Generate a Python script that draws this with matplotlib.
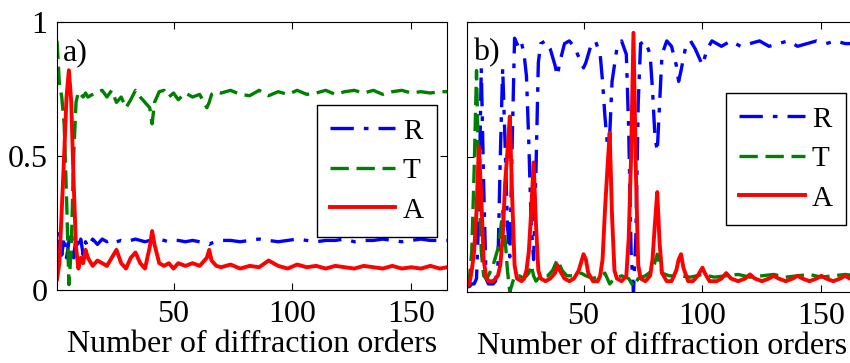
import matplotlib
matplotlib.use("Agg")
import matplotlib.pyplot as plt

plt.rcParams["font.family"] = ["Liberation Serif", "DejaVu Serif"]

# ---- panel a) ----
n_a = [1, 2, 3, 4, 5, 6, 7, 8, 9, 10, 11, 12, 13, 14, 16, 18, 20, 22, 24, 26, 28,
       30, 32, 34, 36, 38, 40, 41, 42, 44, 46, 48, 50, 52, 55, 58, 61, 64, 65, 66,
       68, 70, 74, 78, 82, 86, 90, 94, 98, 102, 106, 110, 114, 118, 122, 126, 130,
       134, 138, 142, 146, 150, 154, 158, 162, 165]
r_a = [0.10, 0.22, 0.13, 0.20, 0.12, 0.18, 0.22, 0.12, 0.20, 0.15, 0.19, 0.13, 0.18,
       0.16, 0.19, 0.17, 0.19, 0.18, 0.19, 0.18, 0.185, 0.18, 0.185, 0.19, 0.185,
       0.18, 0.185, 0.18, 0.185, 0.19, 0.185, 0.18, 0.185, 0.185, 0.18, 0.185, 0.18,
       0.175, 0.17, 0.175, 0.18, 0.185, 0.185, 0.18, 0.185, 0.19, 0.185, 0.18, 0.185,
       0.19, 0.185, 0.18, 0.185, 0.185, 0.19, 0.18, 0.185, 0.185, 0.19, 0.185, 0.18,
       0.185, 0.19, 0.185, 0.185, 0.185]
t_a = [0.93, 0.77, 0.72, 0.62, 0.35, 0.02, 0.15, 0.50, 0.70, 0.74, 0.73, 0.72, 0.735,
       0.72, 0.73, 0.74, 0.745, 0.72, 0.745, 0.70, 0.72, 0.68, 0.71, 0.745, 0.72, 0.70,
       0.68, 0.62, 0.70, 0.74, 0.745, 0.72, 0.735, 0.71, 0.735, 0.72, 0.73, 0.68, 0.70,
       0.73, 0.74, 0.735, 0.745, 0.73, 0.725, 0.745, 0.725, 0.74, 0.73, 0.745, 0.73,
       0.735, 0.745, 0.73, 0.74, 0.745, 0.735, 0.745, 0.73, 0.74, 0.745, 0.735, 0.74,
       0.735, 0.74, 0.74]
a_a = [0.04, 0.10, 0.30, 0.50, 0.72, 0.82, 0.70, 0.40, 0.16, 0.08, 0.12, 0.10, 0.15,
       0.12, 0.09, 0.11, 0.10, 0.09, 0.12, 0.15, 0.10, 0.08, 0.12, 0.14, 0.10, 0.08,
       0.16, 0.22, 0.17, 0.10, 0.09, 0.10, 0.08, 0.10, 0.09, 0.10, 0.09, 0.12, 0.15,
       0.11, 0.09, 0.085, 0.095, 0.08, 0.09, 0.085, 0.11, 0.09, 0.08, 0.095, 0.085,
       0.09, 0.08, 0.09, 0.085, 0.08, 0.09, 0.085, 0.08, 0.09, 0.08, 0.085, 0.08,
       0.09, 0.08, 0.085]

# ---- panel b) ----
n_b_r = [1, 2, 3, 4, 5, 6, 7, 8, 9, 10, 11, 12, 13, 14, 15, 16, 17, 18, 19, 20, 21,
         22, 23, 24, 25, 26, 27, 28, 29, 30, 31, 32, 34, 36, 38, 39, 40, 42, 44, 46,
         48, 50, 51, 53, 55, 57, 58, 59, 60, 61, 62, 64, 66, 68, 69, 70, 71, 72, 73,
         74, 76, 78, 79, 80, 81, 82, 83, 85, 87, 89, 90, 91, 93, 95, 97, 99, 100, 102,
         104, 108, 112, 116, 120, 124, 128, 132, 136, 140, 144, 148, 152, 156, 160, 165]
r_b = [0.02, 0.02, 0.03, 0.03, 0.05, 0.30, 0.83, 0.40, 0.05, 0.03, 0.03, 0.03, 0.04,
       0.10, 0.50, 0.83, 0.55, 0.25, 0.13, 0.55, 0.94, 0.92, 0.90, 0.92, 0.88, 0.80,
       0.55, 0.25, 0.12, 0.45, 0.85, 0.92, 0.93, 0.90, 0.84, 0.80, 0.85, 0.92, 0.93,
       0.91, 0.87, 0.83, 0.85, 0.91, 0.93, 0.88, 0.78, 0.65, 0.55, 0.58, 0.78, 0.90,
       0.93, 0.88, 0.60, 0.15, 0.00, 0.20, 0.70, 0.92, 0.93, 0.88, 0.75, 0.58, 0.52,
       0.70, 0.88, 0.93, 0.91, 0.84, 0.78, 0.82, 0.91, 0.93, 0.90, 0.86, 0.84, 0.90,
       0.93, 0.91, 0.93, 0.91, 0.92, 0.93, 0.91, 0.92, 0.93, 0.91, 0.92, 0.93, 0.92,
       0.93, 0.92, 0.92]
n_b_t = [1, 2, 3, 4, 5, 6, 7, 8, 9, 10, 11, 12, 13, 14, 15, 16, 17, 18, 19, 20, 21,
         23, 25, 27, 28, 29, 30, 32, 35, 37, 39, 41, 43, 46, 49, 51, 54, 57, 59, 61, 63,
         66, 69, 71, 73, 76, 79, 81, 83, 86, 90, 95, 100, 105, 110, 115, 120, 125, 130,
         135, 140, 145, 150, 155, 160, 165]
t_b = [0.02, 0.05, 0.15, 0.45, 0.82, 0.40, 0.15, 0.06, 0.05, 0.06, 0.08, 0.10, 0.13,
       0.16, 0.22, 0.30, 0.20, 0.08, 0.00, 0.03, 0.06, 0.06, 0.05, 0.07, 0.10, 0.06,
       0.04, 0.06, 0.06, 0.08, 0.12, 0.08, 0.06, 0.06, 0.07, 0.06, 0.05, 0.06, 0.07,
       0.03, 0.05, 0.06, 0.05, 0.02, 0.05, 0.06, 0.08, 0.14, 0.07, 0.06, 0.06, 0.055,
       0.065, 0.055, 0.06, 0.065, 0.055, 0.06, 0.065, 0.055, 0.06, 0.065, 0.055, 0.06,
       0.065, 0.06]
n_b_a = [1, 2, 3, 4, 5, 6, 7, 8, 9, 10, 12, 13, 14, 15, 16, 17, 18, 19, 20, 21, 22,
         24, 25, 26, 27, 28, 29, 30, 31, 32, 34, 36, 38, 39, 40, 42, 44, 46, 48, 50, 51,
         52, 54, 56, 57, 58, 59, 60, 61, 62, 63, 64, 66, 68, 69, 70, 71, 72, 73, 74, 76,
         78, 79, 80, 81, 82, 83, 85, 87, 89, 90, 91, 92, 94, 96, 98, 100, 101, 103, 106,
         108, 110, 112, 115, 118, 120, 122, 125, 128, 130, 132, 135, 138, 140, 142, 145,
         148, 150, 152, 155, 158, 160, 162, 165]
a_b = [0.02, 0.03, 0.08, 0.15, 0.30, 0.54, 0.35, 0.12, 0.06, 0.04, 0.04, 0.05, 0.06,
       0.10, 0.20, 0.40, 0.52, 0.65, 0.35, 0.10, 0.05, 0.04, 0.05, 0.08, 0.15, 0.30,
       0.48, 0.25, 0.08, 0.05, 0.04, 0.05, 0.07, 0.10, 0.08, 0.05, 0.04, 0.05, 0.08,
       0.14, 0.12, 0.07, 0.04, 0.04, 0.06, 0.12, 0.30, 0.45, 0.59, 0.28, 0.08, 0.05,
       0.04, 0.06, 0.20, 0.50, 0.96, 0.45, 0.10, 0.05, 0.04, 0.06, 0.12, 0.25, 0.37,
       0.18, 0.07, 0.04, 0.04, 0.08, 0.12, 0.14, 0.09, 0.04, 0.04, 0.06, 0.09, 0.07,
       0.04, 0.04, 0.05, 0.07, 0.05, 0.04, 0.05, 0.065, 0.05, 0.04, 0.05, 0.06, 0.05,
       0.04, 0.05, 0.06, 0.05, 0.04, 0.05, 0.06, 0.05, 0.04, 0.05, 0.06, 0.05, 0.04]

FS = 23
LW = 2.4
DASHDOT = [7, 3, 1.4, 3]
DASHED = [5.5, 2.3]

fig = plt.figure(figsize=(8.5, 3.63), dpi=100)
ax_a = fig.add_axes([57 / 850, 73 / 363, 390 / 850, 268 / 363])
ax_b = fig.add_axes([467 / 850, 71 / 363, 390 / 850, 270 / 363])

panels = [
    (ax_a, "a)", (n_a, r_a), (n_a, t_a), (n_a, a_a), (0.974, 0.69)),
    (ax_b, "b)", (n_b_r, r_b), (n_b_t, t_b), (n_b_a, a_b), (0.972, 0.737)),
]

for ax, tag, rr, tt, aa, anchor in panels:
    ax.plot(*rr, color="blue", lw=LW, dashes=DASHDOT, label="R")
    ax.plot(*tt, color="#008000", lw=LW, dashes=DASHED, label="T")
    ax.plot(*aa, color="red", lw=LW + 0.4, label="A")
    ax.set_xlim(1, 165)
    ax.set_ylim(0, 1)
    ax.set_xticks([50, 100, 150])
    ax.set_yticks([0, 0.5, 1])
    ax.set_yticklabels(["0", "0.5", "1"])
    ax.tick_params(direction="in", top=True, right=True, length=5,
                   labelsize=FS, pad=7)
    ax.set_xlabel("Number of diffraction orders", fontsize=FS, labelpad=1)
    ax.text(0.015, 0.885, tag, transform=ax.transAxes, fontsize=FS,
            va="center", ha="left")
    leg = ax.legend(loc="upper right", bbox_to_anchor=anchor, fontsize=21,
                    handlelength=2.25, handletextpad=0.25, labelspacing=0.45,
                    borderpad=0.45, borderaxespad=0, fancybox=False,
                    framealpha=1, edgecolor="black")
    leg.get_frame().set_linewidth(1.0)

ax_b.set_yticklabels([])

fig.savefig("out.png", dpi=100)
